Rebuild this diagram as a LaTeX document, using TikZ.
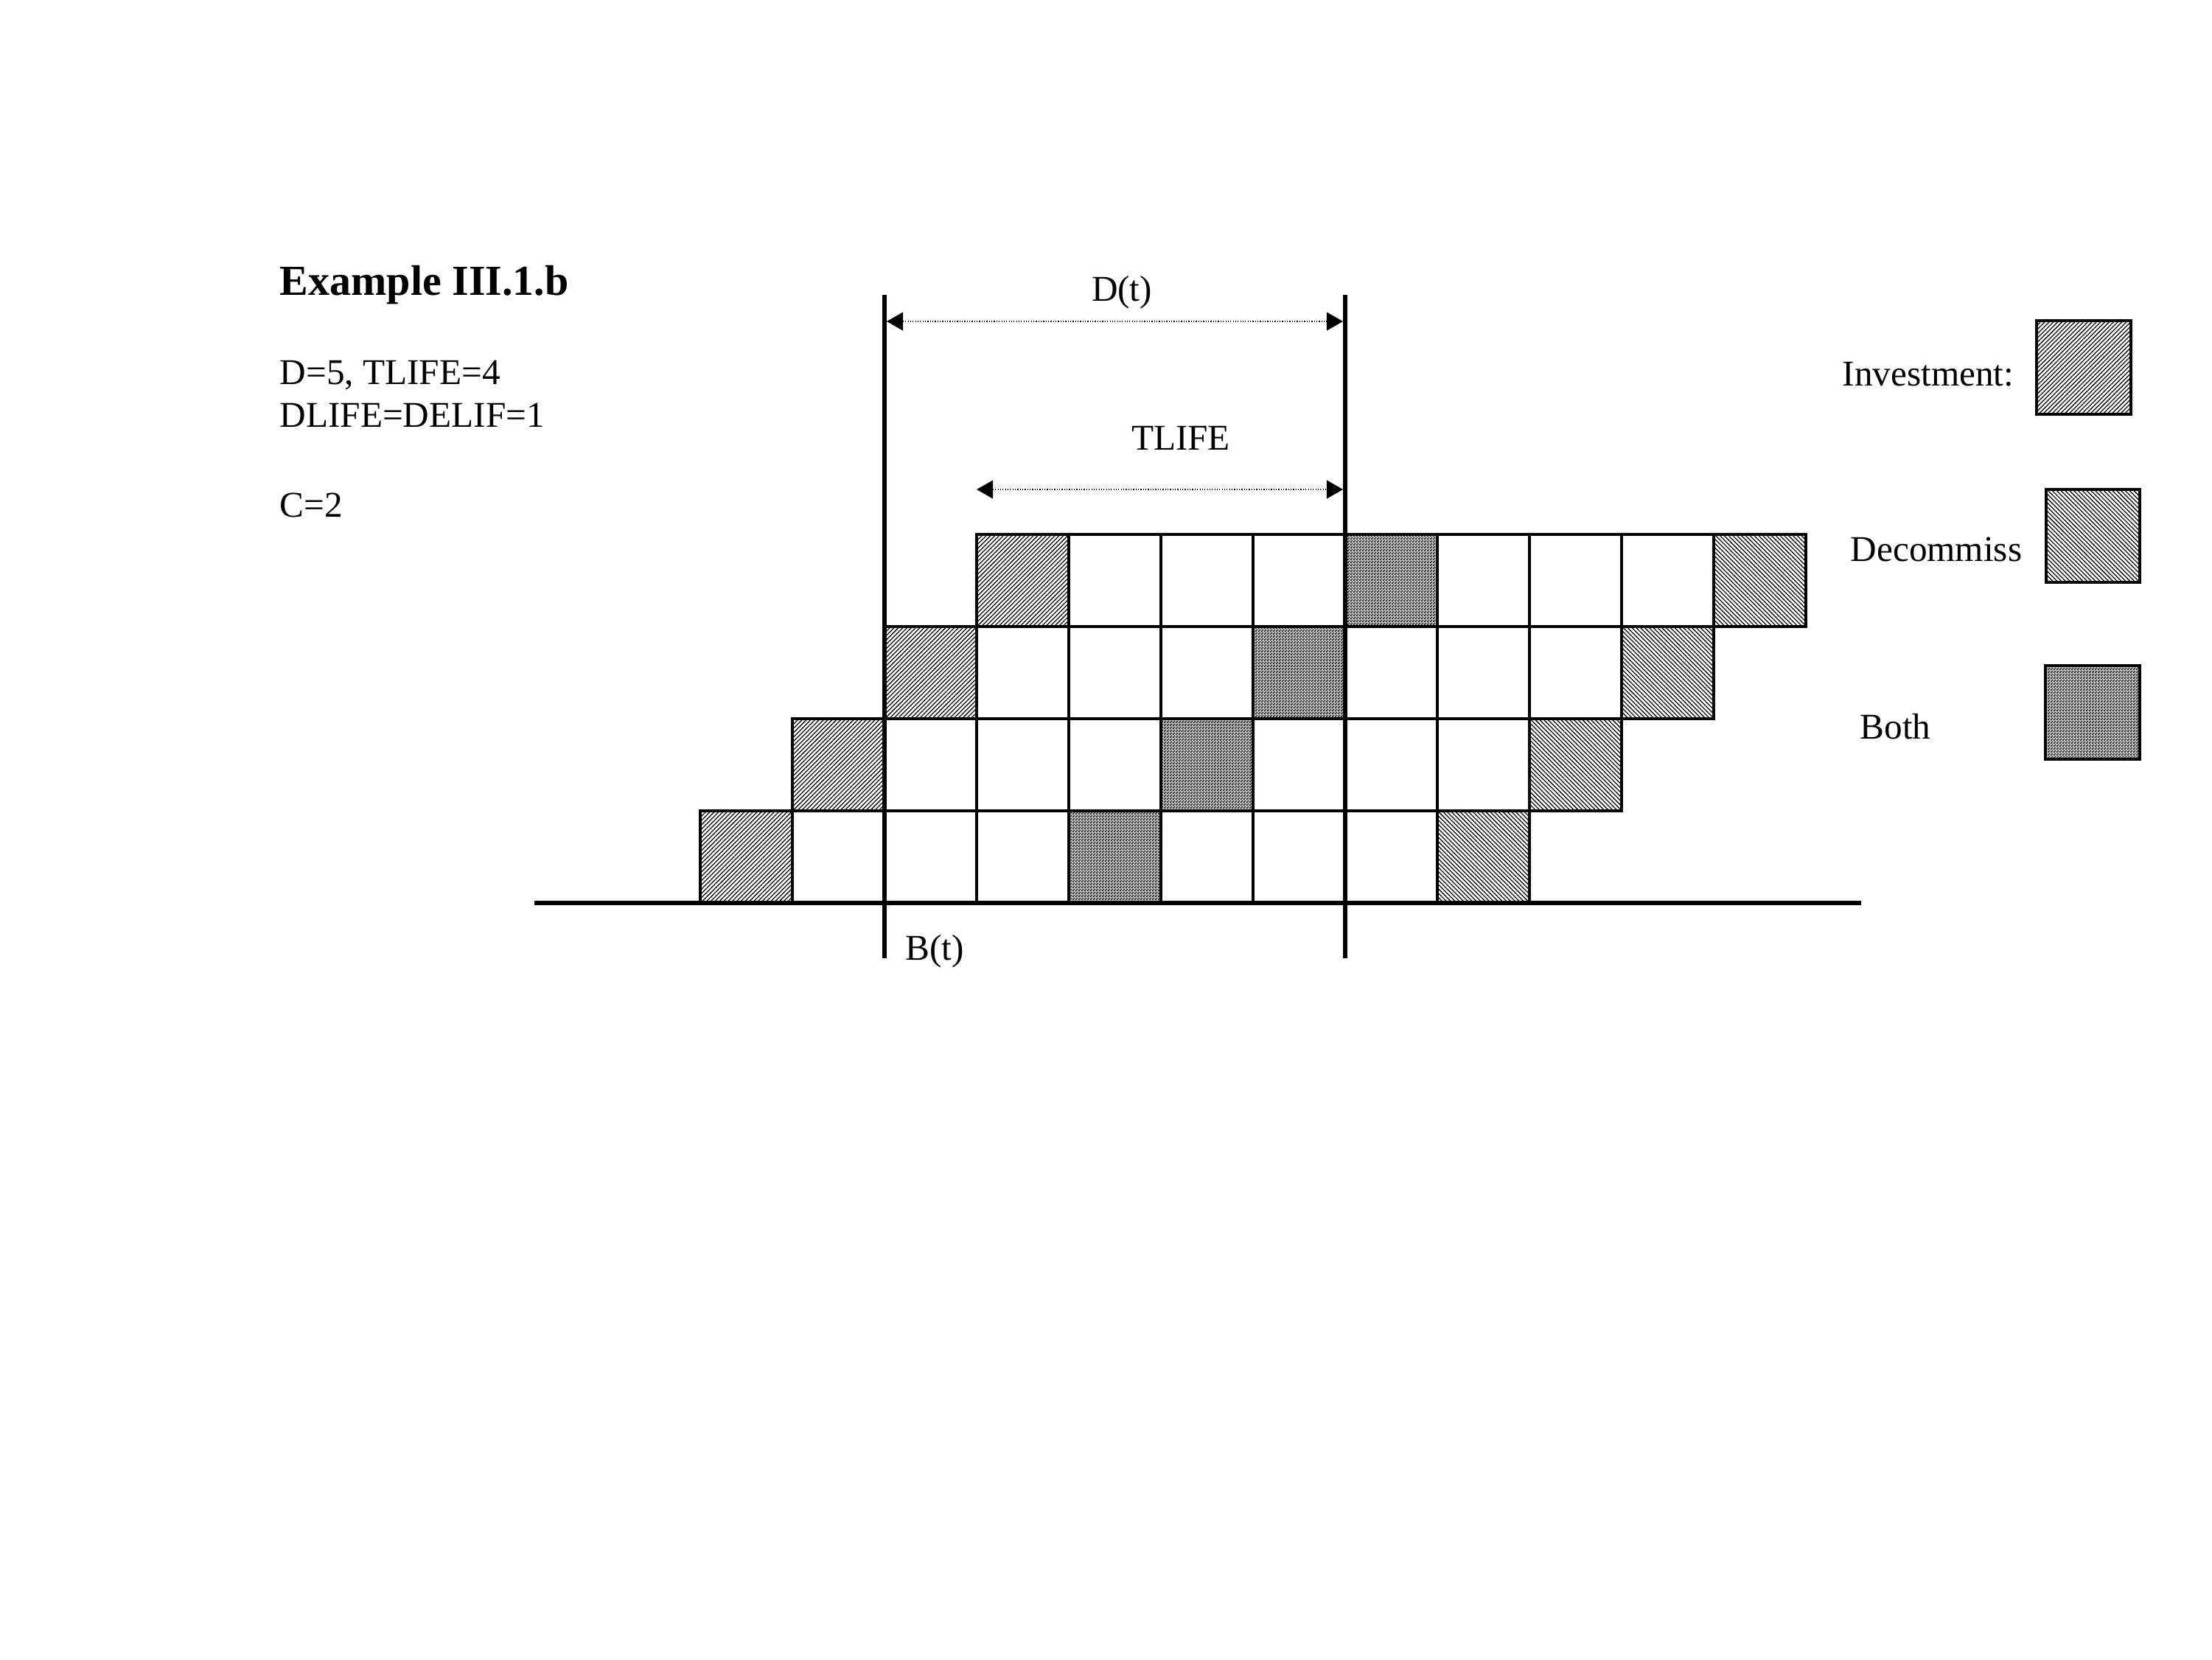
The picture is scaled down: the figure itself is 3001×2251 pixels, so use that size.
\documentclass[tikz,border=0pt]{standalone}
\usepackage{fontspec}
\setmainfont{Liberation Serif}
\usetikzlibrary{patterns,patterns.meta,arrows.meta}
\pgfdeclarepatternformonly{finecheck}{\pgfpointorigin}{\pgfqpoint{1.14pt}{1.14pt}}{\pgfqpoint{1.14pt}{1.14pt}}{%
  \pgfpathrectangle{\pgfpointorigin}{\pgfqpoint{0.57pt}{0.57pt}}%
  \pgfpathrectangle{\pgfqpoint{0.57pt}{0.57pt}}{\pgfqpoint{0.57pt}{0.57pt}}%
  \pgfusepath{fill}}
\tikzset{
  invfill/.style={pattern={Lines[angle=45,distance=1.17pt,line width=0.36pt]}},
  decfill/.style={pattern={Lines[angle=-45,distance=1.17pt,line width=0.36pt]}},
  bothfill/.style={fill=black!22,postaction={pattern=finecheck}},
  cellline/.style={draw=black,line width=0.9pt},
  thickline/.style={draw=black,line width=1.7pt},
  legbox/.style={draw=black,line width=0.9pt},
  dimarrow/.style={line width=0.35pt,dash pattern=on 0.35pt off 0.6pt,
    {Triangle[length=6.3pt,width=7.1pt]}-{Triangle[length=6.3pt,width=7.1pt]}},
  txt/.style={inner sep=0pt,font=\fontsize{14}{16.5}\selectfont},
}
\begin{document}
\begin{tikzpicture}[x=0.01cm,y=-0.01cm]
\useasboundingbox (0,0) rectangle (3001,2251);
% cells
\foreach \r in {0,1,2,3}{
  \foreach \i in {0,...,8}{
    \pgfmathsetmacro{\xl}{950+125*(\r+\i)}
    \pgfmathsetmacro{\yb}{1225-125*\r}
    \ifnum\i=0
      \path[fill=white,invfill] (\xl,\yb) rectangle ++(125,-125);
    \else\ifnum\i=4
      \path[bothfill] (\xl,\yb) rectangle ++(125,-125);
    \else\ifnum\i=8
      \path[fill=white,decfill] (\xl,\yb) rectangle ++(125,-125);
    \fi\fi\fi
    \draw[cellline] (\xl,\yb) rectangle ++(125,-125);
  }
}
% axis and boundary lines
\coordinate (axL) at (725,1225);
\coordinate (axR) at (2525,1225);
\coordinate (bT) at (1200,400);
\coordinate (bB) at (1200,1300);
\coordinate (dT) at (1825,400);
\coordinate (dB) at (1825,1300);
\draw[thickline] (axL) -- (axR);
\draw[thickline] (bT) -- (bB);
\draw[thickline] (dT) -- (dB);
% dimension arrows
\coordinate (d1) at (1203,436);
\coordinate (d2) at (1822,436);
\coordinate (t1) at (1325,664);
\coordinate (t2) at (1822,664);
\draw[dimarrow] (d1) -- (d2);
\draw[dimarrow] (t1) -- (t2);
\node[txt,anchor=base] (dlab) at (1522,408) {D(t)};
\node[txt,anchor=base] (tlab) at (1602,610) {TLIFE};
\node[txt,anchor=base west] (blab) at (1228,1302) {B(t)};
% header texts
\node[inner sep=0pt,anchor=base west,font=\fontsize{16.5}{19}\selectfont\bfseries] (title) at (379,400) {Example III.1.b};
\node[txt,anchor=base west] (p1) at (379,521) {D=5, TLIFE=4};
\node[txt,anchor=base west] (p2) at (379,579) {DLIFE=DELIF=1};
\node[txt,anchor=base west] (p3) at (379,701) {C=2};
% legend
\node[txt,anchor=base west] (linv) at (2499,523) {Investment:};
\node[txt,anchor=base west] (ldec) at (2510,761) {Decommiss};
\node[txt,anchor=base west] (lboth) at (2523,1002) {Both};
\path[fill=white,invfill] (2763,435) rectangle (2891,562);
\draw[legbox] (2763,435) rectangle (2891,562);
\path[fill=white,decfill] (2776,664) rectangle (2903,790);
\draw[legbox] (2776,664) rectangle (2903,790);
\path[bothfill] (2775,903) rectangle (2903,1030);
\draw[legbox] (2775,903) rectangle (2903,1030);
\end{tikzpicture}
\end{document}
